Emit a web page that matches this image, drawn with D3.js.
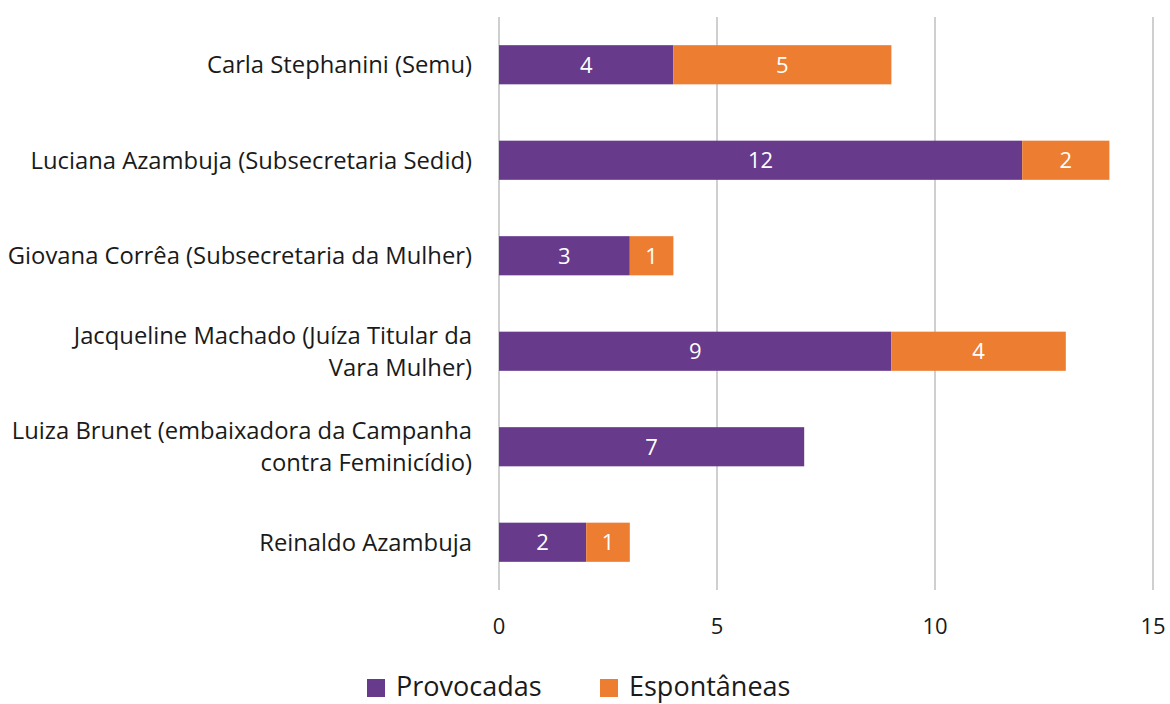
<!DOCTYPE html>
<html>
<head>
<meta charset="utf-8">
<script src="https://cdn.jsdelivr.net/npm/d3@7"></script>
<style>
  body { margin: 0; background: #fff; }
  text { font-family: "Open Sans", "Noto Sans", sans-serif; fill: #1a1a1a; }
</style>
</head>
<body>
<div id="chart"></div>
<script>
// data
const people = [
  ["Carla Stephanini (Semu)"],
  ["Luciana Azambuja (Subsecretaria Sedid)"],
  ["Giovana Corrêa (Subsecretaria da Mulher)"],
  ["Jacqueline Machado (Juíza Titular da", "Vara Mulher)"],
  ["Luiza Brunet (embaixadora da Campanha", "contra Feminicídio)"],
  ["Reinaldo Azambuja"]
];
const provocadas = [4, 12, 3, 9, 7, 2];
const espontaneas = [5, 2, 1, 4, 0, 1];
const seriesNames = ["Provocadas", "Espontâneas"];
const xTicks = [0, 5, 10, 15];

const W = 1170, H = 704;
const margin = {top: 17, right: 17, bottom: 114, left: 499};
const width = W - margin.left - margin.right,
      height = H - margin.top - margin.bottom;
const colors = ["#673a8c", "#ed7d31"];

const svg = d3.select("#chart").append("svg")
    .attr("width", W).attr("height", H)
  .append("g")
    .attr("transform", `translate(${margin.left},${margin.top})`);

const xScale = d3.scaleLinear().domain([0, 15]).range([0, width]);
const yScale = d3.scaleBand()
  .domain(d3.range(people.length))
  .range([0, height])
  .paddingInner(0.59).paddingOuter(0.295);

// grid
svg.append("g")
  .selectAll("line")
  .data(xTicks)
  .join("line")
    .attr("x1", d => xScale(d)).attr("x2", d => xScale(d))
    .attr("y1", 0).attr("y2", height)
    .attr("stroke", "#bfbfbf").attr("stroke-width", 1.5);

// tick labels
svg.append("g")
  .selectAll("text")
  .data(xTicks)
  .join("text")
    .attr("x", d => xScale(d))
    .attr("y", height + 44)
    .attr("text-anchor", "middle")
    .style("font-size", "22px")
    .text(d => d);

// stacked bars
const rows = people.map((p, i) => ({i, vals: [provocadas[i], espontaneas[i]]}));
rows.forEach(r => {
  let x0 = 0;
  r.vals.forEach((v, s) => {
    if (v > 0) {
      svg.append("rect")
        .attr("x", xScale(x0))
        .attr("y", yScale(r.i))
        .attr("width", xScale(x0 + v) - xScale(x0))
        .attr("height", yScale.bandwidth())
        .attr("fill", colors[s]);
      svg.append("text")
        .attr("x", xScale(x0 + v / 2))
        .attr("y", yScale(r.i) + yScale.bandwidth() / 2)
        .attr("dy", "0.36em")
        .attr("text-anchor", "middle")
        .style("font-size", "22px")
        .style("fill", "#fff")
        .text(v);
    }
    x0 += v;
  });
});

// category labels
const lineH = 32;
people.forEach((lines, i) => {
  const cy = yScale(i) + yScale.bandwidth() / 2;
  const t = svg.append("text")
    .attr("text-anchor", "end")
    .style("font-size", "23.8px");
  lines.forEach((ln, k) => {
    t.append("tspan")
      .attr("x", -27)
      .attr("y", cy + (k - (lines.length - 1) / 2) * lineH)
      .attr("dy", "0.36em")
      .text(ln);
  });
});

// legend
const legend = d3.select("svg").append("g");
const legendX = [367, 600];
seriesNames.forEach((name, s) => {
  legend.append("rect")
    .attr("x", legendX[s]).attr("y", 679)
    .attr("width", 18).attr("height", 18)
    .attr("fill", colors[s]);
  legend.append("text")
    .attr("x", legendX[s] + 29).attr("y", 686)
    .attr("dy", "0.36em")
    .style("font-size", "27px")
    .text(name);
});
</script>
</body>
</html>
